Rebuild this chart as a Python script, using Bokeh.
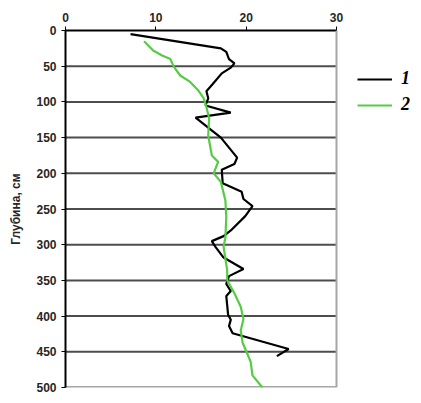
from bokeh.plotting import figure
from bokeh.models import Range1d, FixedTicker, Legend, LegendItem, Span
from bokeh.embed import file_html
from bokeh.resources import INLINE

# Series 1 (black): depth (cm) and value
depth_1 = [5, 25, 30, 40, 46, 52, 60, 75, 85, 95, 105, 115, 122, 150, 178, 187, 195, 214,
           226, 236, 246, 260, 280, 288, 295, 303, 318, 334, 344, 355, 365, 372, 385, 398,
           405, 414, 424, 446, 456]
value_1 = [7.2, 17.2, 17.8, 18.1, 18.7, 18.3, 17.3, 16.3, 15.6, 15.8, 15.5, 18.3, 14.4, 17.2,
           19.0, 18.7, 17.3, 17.4, 19.5, 19.7, 20.7, 19.9, 18.3, 17.5, 16.2, 16.6, 17.5, 19.7,
           18.1, 17.8, 18.3, 17.8, 17.9, 18.0, 18.3, 18.1, 18.5, 24.7, 23.4]

# Series 2 (green)
depth_2 = [15, 28, 35, 40, 51, 63, 72, 84, 95, 107, 123, 147, 175, 184, 200, 212, 238, 261,
           290, 303, 336, 350, 368, 387, 404, 420, 437, 464, 483, 500]
value_2 = [8.7, 9.7, 10.7, 11.6, 12.0, 12.7, 13.8, 14.7, 15.3, 15.6, 15.9, 15.8, 16.2, 16.9,
           16.4, 17.2, 17.7, 17.8, 17.7, 17.5, 17.9, 17.9, 18.7, 19.4, 19.7, 19.4, 19.6, 20.5,
           20.7, 21.8]

x_min, x_max = 0, 30
y_min, y_max = 0, 500
x_ticks = [0, 10, 20, 30]
y_ticks = [0, 50, 100, 150, 200, 250, 300, 350, 400, 450, 500]
series_labels = ["1", "2"]
y_label = "Глубина, см"

# layout (pixels)
fig_w, fig_h = 421, 395
left, top, bottom = 65, 30, 8
plot_w = 271                      # width of the axes box itself
x_view_end = x_max * (fig_w - left) / plot_w   # extra room on the right for the legend

p = figure(width=fig_w, height=fig_h, output_backend="svg", toolbar_location=None,
           x_range=Range1d(x_min, x_view_end), y_range=Range1d(y_max, y_min),
           x_axis_location="above",
           min_border_left=left, min_border_top=top, min_border_right=0,
           min_border_bottom=bottom)

p.outline_line_color = None
p.background_fill_color = "white"
p.border_fill_color = "white"

for ax in (p.xaxis[0], p.yaxis[0]):
    ax.axis_line_color = "black"
    ax.axis_line_width = 2
    ax.major_tick_line_color = "black"
    ax.major_tick_line_width = 1
    ax.major_tick_in = 0
    ax.major_tick_out = 4
    ax.minor_tick_line_color = None
    ax.major_label_text_font = "Liberation Sans"
    ax.major_label_text_font_style = "bold"
    ax.major_label_text_font_size = "12px"
    ax.major_label_text_color = "#262626"
    ax.major_label_standoff = 5

p.xaxis.ticker = FixedTicker(ticks=x_ticks)
p.xaxis.bounds = (x_min, x_max)
p.yaxis.ticker = FixedTicker(ticks=y_ticks)
p.yaxis.axis_label = y_label
p.yaxis.axis_label_text_font = "Liberation Sans"
p.yaxis.axis_label_text_font_style = "bold"
p.yaxis.axis_label_text_font_size = "12px"
p.yaxis.axis_label_text_color = "#262626"
p.yaxis.axis_label_standoff = 10

p.xgrid.grid_line_color = None
p.ygrid.grid_line_color = None

# horizontal grid lines limited to the axes box
grid_y = y_ticks[1:-1]
p.segment(x0=[x_min] * len(grid_y), x1=[x_max] * len(grid_y), y0=grid_y, y1=grid_y,
          line_color="#4d4d4d", line_width=2)
# light grey box edges (bottom and right)
p.segment(x0=[x_min], x1=[x_max], y0=[y_max], y1=[y_max], line_color="#a6a6a6", line_width=3)
p.add_layout(Span(location=x_max, dimension="height", line_color="#a6a6a6", line_width=2))

r1 = p.line(value_1, depth_1, line_color="black", line_width=2.2)
r2 = p.line(value_2, depth_2, line_color="#55cc44", line_width=2.2)

legend = Legend(items=[LegendItem(label=series_labels[0], renderers=[r1]),
                       LegendItem(label=series_labels[1], renderers=[r2])],
                location=(292, 272), padding=0, margin=0, spacing=5,
                glyph_width=35, glyph_height=20, label_height=20, label_standoff=9,
                label_text_font="Liberation Serif", label_text_font_style="bold italic",
                label_text_font_size="18px", label_text_color="black",
                border_line_color=None, background_fill_alpha=0)
p.add_layout(legend, "center")

open("out.html", "w").write(file_html(p, INLINE))
